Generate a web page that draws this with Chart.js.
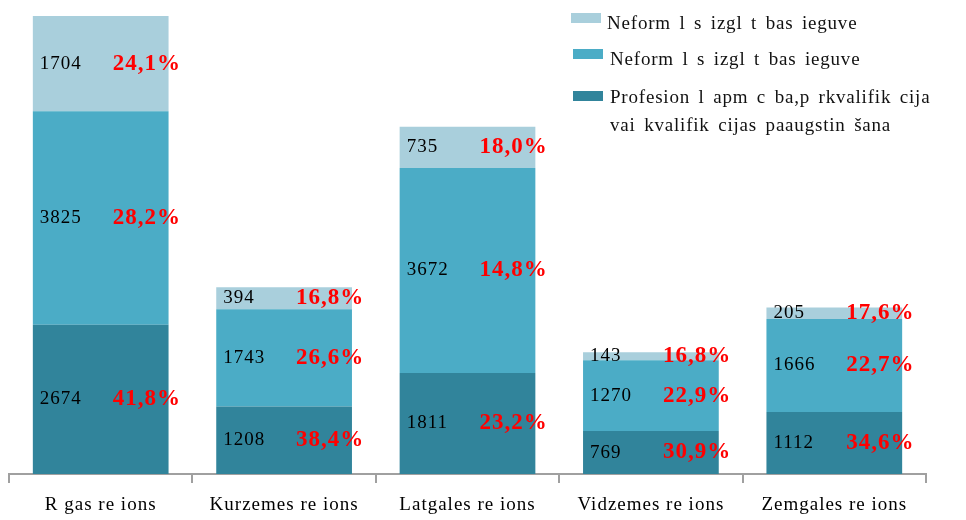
<!DOCTYPE html>
<html>
<head>
<meta charset="utf-8">
<script src="https://cdn.jsdelivr.net/npm/chart.js@4"></script>
<style>
  html, body { margin: 0; padding: 0; background: #fff; overflow: hidden; }
  #wrap { position: relative; width: 966px; height: 520px; }
  #chart { position: absolute; left: 0; top: 0; }
  .legend { position: absolute; left: 0; top: 0; width: 966px; height: 520px; font-family: "Liberation Serif", "Times New Roman", serif; font-size: 19px; color: #111; letter-spacing: 0.8px; word-spacing: 3px; pointer-events: none; }
  .legend .box { position: absolute; width: 30px; height: 10px; }
  .legend .txt { position: absolute; white-space: nowrap; line-height: 30px; }
</style>
</head>
<body>
<div id="wrap">
  <canvas id="chart" width="966" height="520"></canvas>
  <div class="legend" id="legend"></div>
</div>
<script>
const CATEGORIES = [
  "R gas re ions",
  "Kurzemes re ions",
  "Latgales re ions",
  "Vidzemes re ions",
  "Zemgales re ions",
];

// bottom to top
const PROF_VALUES = [2674, 1208, 1811, 769, 1112];
const NEFORM2_VALUES = [3825, 1743, 3672, 1270, 1666];
const NEFORM1_VALUES = [1704, 394, 735, 143, 205];

const PROF_PCT = ["41,8%", "38,4%", "23,2%", "30,9%", "34,6%"];
const NEFORM2_PCT = ["28,2%", "26,6%", "14,8%", "22,9%", "22,7%"];
const NEFORM1_PCT = ["24,1%", "16,8%", "18,0%", "16,8%", "17,6%"];

const SERIES_NAMES = [
  "Profesion l apm c ba,p rkvalifik cija\nvai kvalifik cijas paaugstin šana",
  "Neform l s izgl t bas ieguve",
  "Neform l s izgl t bas ieguve",
];
const SERIES_COLORS = ["#31849B", "#4BACC6", "#A9CFDC"];

const SERIF = '"Liberation Serif", "Times New Roman", serif';

const datasets = [
  { label: SERIES_NAMES[0], data: PROF_VALUES, pct: PROF_PCT, backgroundColor: SERIES_COLORS[0] },
  { label: SERIES_NAMES[1], data: NEFORM2_VALUES, pct: NEFORM2_PCT, backgroundColor: SERIES_COLORS[1] },
  { label: SERIES_NAMES[2], data: NEFORM1_VALUES, pct: NEFORM1_PCT, backgroundColor: SERIES_COLORS[2] },
];

// value + share labels inside the bars, category names under the axis
const barLabels = {
  id: "barLabels",
  afterDatasetsDraw(chart) {
    const ctx = chart.ctx;
    ctx.save();
    ctx.textBaseline = "middle";
    ctx.textAlign = "left";
    ctx.letterSpacing = "1px";
    chart.data.datasets.forEach((dataset, di) => {
      const meta = chart.getDatasetMeta(di);
      meta.data.forEach((bar, i) => {
        const mid = (bar.y + bar.base) / 2;
        const left = bar.x - bar.width / 2;
        ctx.font = `19px ${SERIF}`;
        ctx.fillStyle = "#000";
        ctx.fillText(String(dataset.data[i]), left + 7, mid);
        ctx.font = `bold 23px ${SERIF}`;
        ctx.fillStyle = "#FF0000";
        ctx.fillText(dataset.pct[i], bar.x + 12, mid);
      });
    });
    const xScale = chart.scales.x;
    ctx.textAlign = "center";
    ctx.font = `19px ${SERIF}`;
    ctx.fillStyle = "#000";
    chart.data.labels.forEach((label, i) => {
      ctx.fillText(label, xScale.getPixelForValue(i), 505);
    });
    ctx.restore();
  },
};

new Chart(document.getElementById("chart").getContext("2d"), {
  type: "bar",
  data: {
    labels: CATEGORIES,
    datasets: datasets.map((d) => ({
      ...d,
      barPercentage: 0.74,
      categoryPercentage: 1,
      borderWidth: 0,
    })),
  },
  options: {
    responsive: false,
    animation: false,
    layout: { padding: { left: 9, right: 40, top: 0, bottom: 37 } },
    plugins: { legend: { display: false }, tooltip: { enabled: false } },
    scales: {
      x: {
        stacked: true,
        border: { color: "#A0A0A0", width: 2 },
        grid: {
          offset: true,
          drawOnChartArea: false,
          drawTicks: true,
          tickLength: 9,
          color: "#A0A0A0",
          lineWidth: 2,
        },
        ticks: { display: false },
      },
      y: {
        stacked: true,
        display: false,
        min: 0,
        max: 8490,
      },
    },
  },
  plugins: [barLabels],
});

// legend, top entry first (reverse of stacking order)
const legendEl = document.getElementById("legend");
const legendRows = [
  { idx: 2, boxTop: 13, boxLeft: 571, textTop: 8, textLeft: 607 },
  { idx: 1, boxTop: 49, boxLeft: 573, textTop: 44, textLeft: 610 },
  { idx: 0, boxTop: 91, boxLeft: 573, textTop: 82, textLeft: 610 },
];
legendRows.forEach((row) => {
  const box = document.createElement("div");
  box.className = "box";
  box.style.left = row.boxLeft + "px";
  box.style.top = row.boxTop + "px";
  box.style.background = SERIES_COLORS[row.idx];
  legendEl.appendChild(box);
  SERIES_NAMES[row.idx].split("\n").forEach((line, li) => {
    const t = document.createElement("div");
    t.className = "txt";
    t.textContent = line;
    t.style.left = row.textLeft + "px";
    t.style.top = row.textTop + li * 28 + "px";
    legendEl.appendChild(t);
  });
});
</script>
</body>
</html>
